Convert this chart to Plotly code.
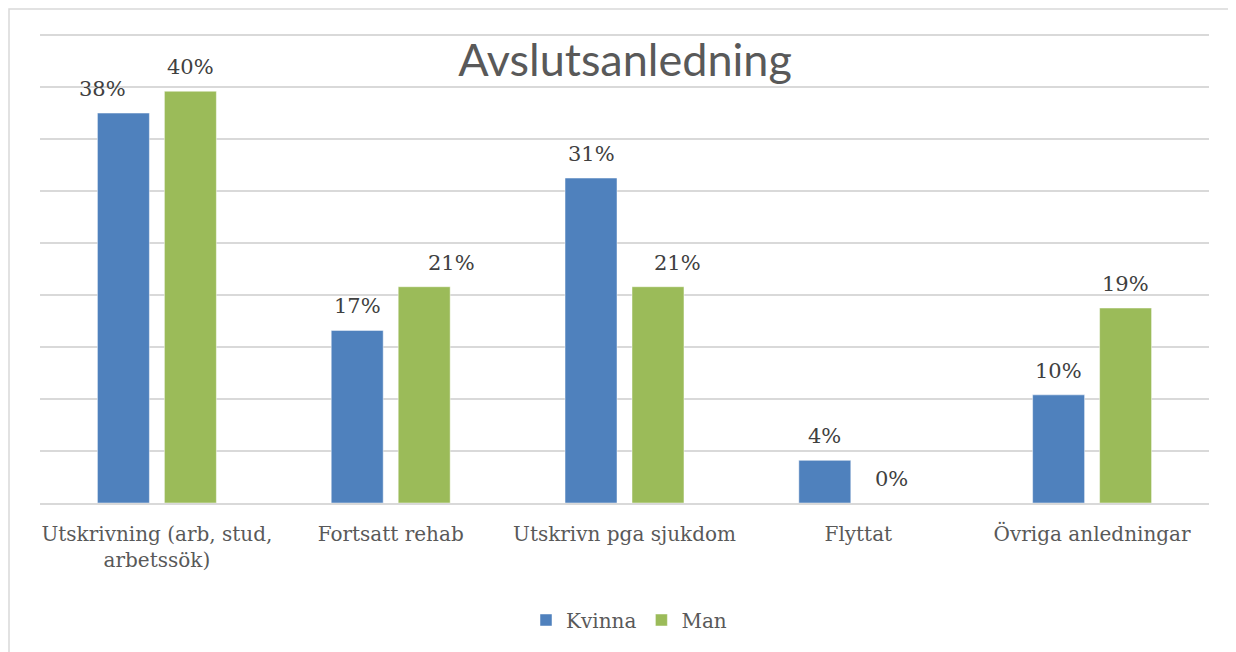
import plotly.graph_objects as go

categories = ["Utskrivning (arb, stud,<br>arbetssök)", "Fortsatt rehab", "Utskrivn pga sjukdom", "Flyttat", "Övriga anledningar"]
kvinna = [37.5, 16.6, 31.25, 4.1, 10.4]
man = [39.6, 20.8, 20.8, 0.0, 18.75]
series_names = ["Kvinna", "Man"]
colors = ["#4f81bd", "#9bbb59"]

# manual label nudges (px), as in the original chart
label_dx = [[-21, 0, 0, 0, 0], [0, 27, 20, 0, 0]]

# page body has an 8px margin, so the figure is drawn 8px in and 8px down
W, H = 1228, 644
ml, mr, mt, mb = 32, 27, 25, 149
pw = W - ml - mr
ph = H - mt - mb

serif = "DejaVu Serif"
fig = go.Figure()
for name, vals, col in zip(series_names, [kvinna, man], colors):
    fig.add_trace(go.Bar(name=name, x=categories, y=vals,
                         marker=dict(color=col, line=dict(width=0.8, color="rgba(255,255,255,0.6)"))))

bargap, bargroupgap = 0.427, 0.224
slot = pw / len(categories) * (1 - bargap) / 2
for k, vals in enumerate([kvinna, man]):
    shift = (k - 0.5) * slot
    for i, (c, v) in enumerate(zip(categories, vals)):
        fig.add_annotation(x=c, y=v, text=f"{v:.0f}%", showarrow=False,
                           xshift=shift + label_dx[k][i], yshift=10, yanchor="bottom",
                           font=dict(family=serif, size=21, color="#404040"))

fig.add_shape(type="rect", xref="paper", yref="paper",
              x0=(1 - ml) / pw, x1=1.1, y0=-0.6, y1=1 + (mt - 1) / ph,
              line=dict(color="#d9d9d9", width=1.5), fillcolor="rgba(0,0,0,0)", layer="below")

fig.update_layout(
    width=W, height=H, margin=dict(l=ml, r=mr, t=mt, b=mb, autoexpand=False),
    paper_bgcolor="white", plot_bgcolor="white",
    barmode="group", bargap=bargap, bargroupgap=bargroupgap,
    title=dict(text="Avslutsanledning", x=(625 - 8) / W, xanchor="center", y=1 - 52 / H, yanchor="middle",
               font=dict(family="Lato", size=45, color="#595959", weight=400)),
    xaxis=dict(showgrid=False, showline=True, linecolor="#d9d9d9", linewidth=1.5, ticks="",
               ticklabelstandoff=12,
               tickfont=dict(family=serif, size=20, color="#595959")),
    yaxis=dict(range=[0, 45.2], dtick=5, showgrid=True, gridcolor="#d9d9d9", gridwidth=1.5,
               showticklabels=False, zeroline=False, fixedrange=True),
    legend=dict(orientation="h", x=(629 - 8) / W, xanchor="center", xref="container", yref="container",
                y=1 - 612 / H, yanchor="middle",
                font=dict(family=serif, size=20, color="#595959"), itemwidth=30),
    showlegend=True,
)

fig.write_html("out.html")
